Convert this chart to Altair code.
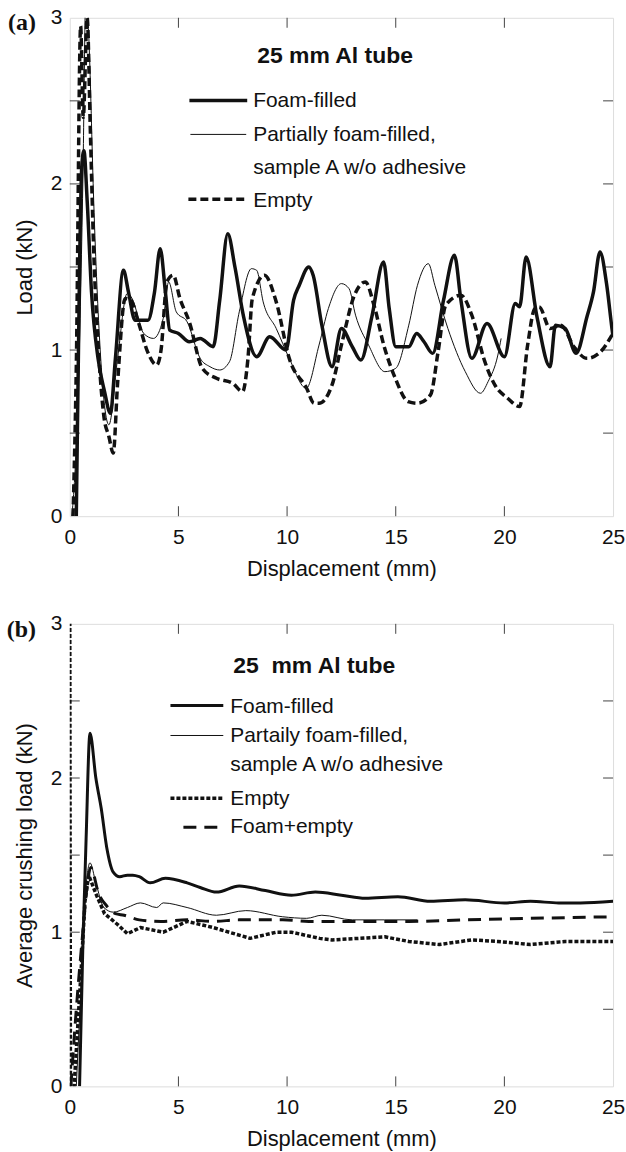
import altair as alt
import pandas as pd

# ---------------- data ----------------
# (a) Load vs displacement
foam_a_x = [0.3, 0.45, 0.55, 0.65, 0.8, 1.0, 1.3, 1.6, 1.87, 2.1, 2.47, 2.7, 3.0, 3.6, 3.9, 4.16, 4.4, 4.6, 5.0, 5.5,
            6.0, 6.6, 6.9, 7.27, 7.6, 8.0, 8.6, 9.2, 9.95, 10.3, 10.56, 11.0, 11.2, 11.6, 12.07, 12.5, 13.0, 13.4,
            13.9, 14.44, 14.7, 15.0, 15.6, 15.96, 16.3, 16.7, 17.2, 17.7, 18.0, 18.5, 19.2, 20.0, 20.5, 20.7, 21.0,
            21.5, 22.1, 22.35, 22.8, 23.3, 23.8, 24.1, 24.4, 24.7, 24.95, 25.0]
foam_a_y = [0.0, 1.5, 2.1, 2.2, 1.9, 1.35, 0.95, 0.75, 0.62, 0.95, 1.48, 1.35, 1.18, 1.18, 1.35, 1.61, 1.35, 1.12, 1.1,
            1.05, 1.07, 1.02, 1.3, 1.70, 1.5, 1.2, 0.96, 1.08, 1.0, 1.3, 1.39, 1.5, 1.45, 1.15, 0.9, 1.13, 1.02, 0.94,
            1.2, 1.53, 1.25, 1.02, 1.02, 1.1, 1.05, 0.98, 1.3, 1.57, 1.3, 0.95, 1.16, 0.96, 1.28, 1.26, 1.56, 1.2,
            0.90, 1.15, 1.13, 0.98, 1.2, 1.35, 1.59, 1.4, 1.13, 1.08]

part_a_x = [0.1, 0.4, 0.6, 0.75, 0.9, 1.1, 1.4, 1.8, 2.2, 2.64, 2.87, 3.4, 3.85, 4.3, 4.55, 4.9, 5.4, 6.0, 6.45, 6.9,
            7.35, 7.8, 8.36, 8.6, 8.9, 9.5, 10.1, 10.88, 11.47, 11.9, 12.5, 12.85, 13.15, 13.75, 14.5, 15.0, 15.6,
            16.0, 16.5, 16.8, 17.4, 18.2, 18.9, 19.25, 19.7, 19.85]
part_a_y = [0.0, 0.8, 2.0, 3.2, 2.8, 1.9, 1.0, 0.55, 0.95, 1.34, 1.31, 1.1, 1.07, 1.19, 1.41, 1.23, 1.17, 0.95, 0.9,
            0.88, 0.93, 1.23, 1.49, 1.48, 1.29, 1.13, 0.95, 0.77, 1.03, 1.25, 1.40, 1.37, 1.21, 1.03, 0.87, 0.89,
            1.15, 1.39, 1.52, 1.39, 1.13, 0.87, 0.74, 0.81, 0.97, 1.07]

empty_a_x = [0.15, 0.3, 0.5, 0.62, 0.8, 0.95, 1.1, 1.3, 1.57, 1.8, 2.0, 2.2, 2.55, 2.8, 3.2, 3.55, 4.0, 4.2, 4.47, 4.76,
             5.07, 5.5, 6.1, 6.75, 7.5, 7.95, 8.2, 8.4, 8.96, 9.5, 10.1, 10.9, 11.24, 11.47, 12.07, 12.5, 13.1, 13.6,
             14.0, 14.45, 14.98, 15.57, 16.0, 16.6, 16.95, 17.3, 18.0, 18.5, 19.1, 19.56, 20.15, 20.7, 21.07, 21.4,
             21.6, 22.1, 22.6, 23.2, 23.8, 24.35, 24.95]
empty_a_y = [0.0, 0.9, 2.95, 2.4, 3.0, 2.3, 1.6, 1.05, 0.6, 0.48, 0.38, 0.8, 1.31, 1.3, 1.15, 1.0, 0.91, 1.0, 1.41, 1.45,
             1.31, 1.17, 0.89, 0.83, 0.80, 0.75, 0.95, 1.31, 1.45, 1.29, 0.95, 0.77, 0.68, 0.68, 0.79, 1.03, 1.33,
             1.41, 1.27, 1.03, 0.83, 0.69, 0.68, 0.73, 0.99, 1.27, 1.33, 1.21, 0.93, 0.79, 0.71, 0.66, 1.03, 1.25,
             1.26, 1.13, 1.15, 1.02, 0.95, 0.98, 1.09]

# (b) Average crushing load vs displacement
foam_b_x = [0.45, 0.6, 0.75, 0.93, 1.2, 1.45, 1.7, 2.0, 2.3, 2.65, 2.9, 3.2, 3.7, 4.4, 5.4, 6.0, 6.75, 7.8, 9.0, 10.2,
            11.3, 12.5, 13.6, 15.1, 16.6, 18.2, 20.0, 21.2, 22.5, 23.5, 25.0]
foam_b_y = [0.0, 0.9, 1.6, 2.29, 2.0, 1.8, 1.55, 1.39, 1.36, 1.37, 1.37, 1.36, 1.32, 1.35, 1.32, 1.29, 1.26, 1.30, 1.27,
            1.24, 1.26, 1.24, 1.22, 1.23, 1.20, 1.21, 1.19, 1.20, 1.19, 1.19, 1.20]

part_b_x = [0.3, 0.5, 0.7, 0.93, 1.2, 1.57, 2.0, 2.65, 3.25, 4.0, 4.3, 5.4, 6.75, 8.1, 9.8, 10.9, 11.6, 13.0, 14.5, 16.0]
part_b_y = [0.0, 0.6, 1.2, 1.45, 1.32, 1.16, 1.13, 1.16, 1.19, 1.16, 1.19, 1.16, 1.11, 1.14, 1.10, 1.09, 1.11, 1.08,
            1.08, 1.08]

empty_b_x = [0.0, 0.03, 0.2, 0.5, 0.7, 0.87, 1.2, 1.6, 2.2, 2.65, 3.25, 4.3, 5.4, 6.6, 8.3, 9.5, 10.2, 11.5, 12.07,
             13.3, 14.5, 15.6, 17.0, 18.5, 19.7, 21.2, 22.8, 25.0]
empty_b_y = [3.05, 0.0, 0.0, 0.7, 1.2, 1.37, 1.25, 1.12, 1.05, 0.99, 1.03, 1.0, 1.07, 1.03, 0.96, 1.0, 1.0, 0.96, 0.95,
             0.96, 0.97, 0.94, 0.92, 0.95, 0.94, 0.92, 0.94, 0.94]

fe_b_x = [0.05, 0.3, 0.6, 0.8, 0.96, 1.33, 1.7, 2.1, 2.5, 3.2, 4.2, 5.4, 6.6, 7.8, 9.8, 11.0, 12.07, 13.5, 15.6, 18.2,
          21.2, 25.0]
fe_b_y = [0.0, 0.5, 1.0, 1.3, 1.42, 1.25, 1.17, 1.12, 1.11, 1.08, 1.07, 1.08, 1.07, 1.08, 1.08, 1.07, 1.07, 1.07, 1.07,
          1.08, 1.09, 1.10]

x_labels = [0, 5, 10, 15, 20, 25]
y_labels = [0, 1, 2, 3]
x_ticks = [5, 10, 15, 20]
y_ticks = [0.5, 1, 1.5, 2, 2.5]

# ---------------- styling ----------------
W = 545
H1 = 500
H2 = 464
FONT = "Liberation Sans"
INK = "#111111"
FRAME = "#444444"
TL = 10  # inward tick length

xs = alt.Scale(domain=[0, 25], nice=False, zero=False)
ys = alt.Scale(domain=[0, 3], nice=False, zero=False)

xaxis = alt.Axis(title="Displacement (mm)", values=x_labels, format="d", ticks=False, tickSize=0,
                 domain=False, grid=False, labelFlush=False, labelFont=FONT, labelFontSize=21,
                 labelColor=INK, labelPadding=10, titleFont=FONT, titleFontSize=22,
                 titleFontWeight="normal", titleColor=INK, titlePadding=11)


def yaxis(title):
    return alt.Axis(title=title, values=y_labels, format="d", ticks=False, tickSize=0, domain=False,
                    grid=False, labelFont=FONT, labelFontSize=21, labelColor=INK, labelPadding=8,
                    titleFont=FONT, titleFontSize=22, titleFontWeight="normal", titleColor=INK,
                    titlePadding=14)


def line(xv, yv, width, ytitle, dash=None, interp="monotone"):
    df = pd.DataFrame({"x": xv, "y": yv})
    kw = dict(color=INK, strokeWidth=width, clip=True, interpolate=interp, strokeJoin="round")
    if dash:
        kw["strokeDash"] = dash
    return alt.Chart(df).mark_line(**kw).encode(
        x=alt.X("x:Q", scale=xs, axis=xaxis),
        y=alt.Y("y:Q", scale=ys, axis=yaxis(ytitle)),
    )


def ticks(H, ytitle):
    ydf = pd.DataFrame({"v": y_ticks})
    xdf = pd.DataFrame({"v": x_ticks})
    ty = alt.Y("v:Q", scale=ys, axis=yaxis(ytitle))
    tx = alt.X("v:Q", scale=xs, axis=xaxis)
    r = dict(color=FRAME, strokeWidth=1)
    return [
        alt.Chart(ydf).mark_rule(**r).encode(y=ty, x=alt.value(0), x2=alt.value(TL)),
        alt.Chart(ydf).mark_rule(**r).encode(y=ty, x=alt.value(W - TL), x2=alt.value(W)),
        alt.Chart(xdf).mark_rule(**r).encode(x=tx, y=alt.value(H - TL), y2=alt.value(H)),
        alt.Chart(xdf).mark_rule(**r).encode(x=tx, y=alt.value(0), y2=alt.value(TL)),
    ]


def text(t, x, y, size=21, weight="normal", font=FONT, align="left", baseline="alphabetic"):
    return alt.Chart(pd.DataFrame({"t": [t]})).mark_text(
        font=font, fontSize=size, fontWeight=weight, align=align, baseline=baseline, color=INK
    ).encode(x=alt.value(x), y=alt.value(y), text="t:N")


def key(x1, x2, y, width, dash=None):
    kw = dict(color=INK, strokeWidth=width)
    if dash:
        kw["strokeDash"] = dash
    return alt.Chart(pd.DataFrame({"k": [0]})).mark_rule(**kw).encode(
        x=alt.value(x1), x2=alt.value(x2), y=alt.value(y))


# ---------------- panel (a) ----------------
ta = "Load (kN)"
layers_a = ticks(H1, ta) + [
    line(part_a_x, part_a_y, 1.0, ta),
    line(empty_a_x, empty_a_y, 3.5, ta, dash=[8, 4]),
    line(foam_a_x, foam_a_y, 3.5, ta),
    text("(a)", -34, 5, size=24, weight="bold", font="Liberation Serif", align="right", baseline="middle"),
    text("25 mm Al tube", 188, 45, size=23, weight="bold"),
    key(120, 178, 83, 3.5), text("Foam-filled", 184, 89),
    key(121, 177, 117, 1.0), text("Partially foam-filled,", 184, 124),
    text("sample A w/o adhesive", 184, 157),
    key(119, 178, 182, 3.5, dash=[8, 4]), text("Empty", 184, 190),
]
chart_a = alt.layer(*layers_a).properties(width=W, height=H1)

# ---------------- panel (b) ----------------
tb = "Average crushing load (kN)"
layers_b = ticks(H2, tb) + [
    line(part_b_x, part_b_y, 1.0, tb),
    line(empty_b_x, empty_b_y, 3.5, tb, dash=[4, 2], interp="linear"),
    line(fe_b_x, fe_b_y, 3.0, tb, dash=[13, 8]),
    line(foam_b_x, foam_b_y, 3.0, tb),
    text("(b)", -34, 6, size=24, weight="bold", font="Liberation Serif", align="right", baseline="middle"),
    text("25\u00a0 mm Al tube", 164, 49, size=23, weight="bold"),
    key(101, 154, 82, 3.0), text("Foam-filled", 161, 89),
    key(101, 154, 112, 1.0), text("Partaily foam-filled,", 161, 119),
    text("sample A w/o adhesive", 161, 148),
    key(101, 153, 175, 3.5, dash=[4, 2]), text("Empty", 161, 182),
    key(114, 153, 204, 3.0, dash=[13, 8]), text("Foam+empty", 161, 210),
]
chart_b = alt.layer(*layers_b).properties(width=W, height=H2)

chart = alt.vconcat(chart_a, chart_b, spacing=32).properties(
    padding={"left": 6, "top": 4, "right": 0, "bottom": 0}
).configure_view(stroke=FRAME, strokeWidth=1).configure(background="white")

chart.save("out.html", embed_options={"renderer": "svg", "actions": False})
